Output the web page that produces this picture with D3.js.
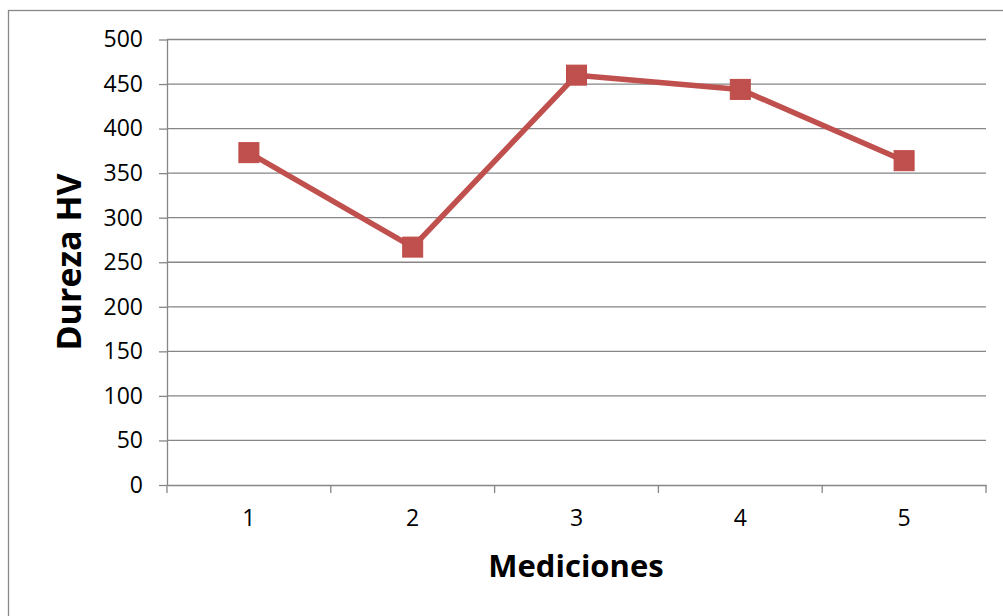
<!DOCTYPE html>
<html>
<head>
<meta charset="utf-8">
<script src="https://cdn.jsdelivr.net/npm/d3@7"></script>
<style>
  body { margin: 0; background: #fff; }
  svg { display: block; }
  text { font-family: "Open Sans", sans-serif; fill: #000; }
</style>
</head>
<body>
<script>
// data
var mediciones = [1, 2, 3, 4, 5];
var dureza = [373, 267, 460, 444, 364];
var yTicks = [0, 50, 100, 150, 200, 250, 300, 350, 400, 450, 500];

var svgWidth = 1003, svgHeight = 616;
var plot = {left: 167, right: 986, top: 39.5, bottom: 485};

var svg = d3.select('body').append('svg')
    .attr('width', svgWidth)
    .attr('height', svgHeight);

// chart frame
svg.append('rect')
    .attr('x', 8.5).attr('y', 10.5)
    .attr('width', 1100).attr('height', 700)
    .attr('fill', '#fff')
    .attr('stroke', '#888').attr('stroke-width', 1.3);

var x = d3.scaleBand()
    .domain(mediciones)
    .range([plot.left, plot.right]);

var y = d3.scaleLinear()
    .domain([0, 500])
    .range([plot.bottom, plot.top]);

// gridlines
svg.append('g').selectAll('line')
    .data(yTicks.filter(function(d){ return d > 0; }))
    .enter().append('line')
    .attr('x1', plot.left).attr('x2', plot.right)
    .attr('y1', function(d){ return y(d); })
    .attr('y2', function(d){ return y(d); })
    .attr('stroke', '#868686').attr('stroke-width', 1.3);

// y axis
var yAxis = svg.append('g')
    .attr('transform', 'translate(' + plot.left + ',0)')
    .call(d3.axisLeft(y).tickValues(yTicks).tickSize(8).tickPadding(16).tickSizeOuter(0));
yAxis.select('.domain').attr('stroke', '#868686').attr('stroke-width', 1.3);
yAxis.selectAll('.tick line').attr('stroke', '#868686').attr('stroke-width', 1.3);
yAxis.selectAll('.tick text')
    .style('font-size', '23px')
    .style('font-family', '"Open Sans", sans-serif')
    .attr('fill', '#000');

// x axis
var xAxis = svg.append('g')
    .attr('transform', 'translate(0,' + plot.bottom + ')')
    .call(d3.axisBottom(x).tickSize(0).tickPadding(25));
xAxis.select('.domain').attr('stroke', '#868686').attr('stroke-width', 1.3);
xAxis.selectAll('.tick text')
    .style('font-size', '23px')
    .style('font-family', '"Open Sans", sans-serif')
    .attr('fill', '#000');
// category boundary ticks
var bounds = mediciones.map(function(d){ return x(d); }).concat([x(mediciones[mediciones.length - 1]) + x.bandwidth()]);
xAxis.selectAll('.bound')
    .data(bounds)
    .enter().append('line')
    .attr('class', 'bound')
    .attr('x1', function(d){ return d; }).attr('x2', function(d){ return d; })
    .attr('y1', 0).attr('y2', 8)
    .attr('stroke', '#868686').attr('stroke-width', 1.3);

// series line
var line = d3.line()
    .x(function(d, i){ return x(mediciones[i]) + x.bandwidth() / 2; })
    .y(function(d){ return y(d); });

svg.append('path')
    .datum(dureza)
    .attr('d', line)
    .attr('fill', 'none')
    .attr('stroke', '#C0504D')
    .attr('stroke-width', 5.5)
    .attr('stroke-linejoin', 'round');

svg.append('g').selectAll('rect')
    .data(dureza)
    .enter().append('rect')
    .attr('x', function(d, i){ return x(mediciones[i]) + x.bandwidth() / 2 - 10; })
    .attr('y', function(d){ return y(d) - 10; })
    .attr('width', 20).attr('height', 20)
    .attr('fill', '#C0504D')
    .attr('stroke', '#BE4B48').attr('stroke-width', 1);

// axis titles
svg.append('text')
    .attr('x', 576).attr('y', 577)
    .attr('text-anchor', 'middle')
    .style('font-size', '31px')
    .style('font-weight', 'bold')
    .text('Mediciones');

svg.append('text')
    .attr('transform', 'translate(81,262) rotate(-90)')
    .attr('text-anchor', 'middle')
    .style('font-size', '34px')
    .style('font-weight', 'bold')
    .text('Dureza HV');
</script>
</body>
</html>
